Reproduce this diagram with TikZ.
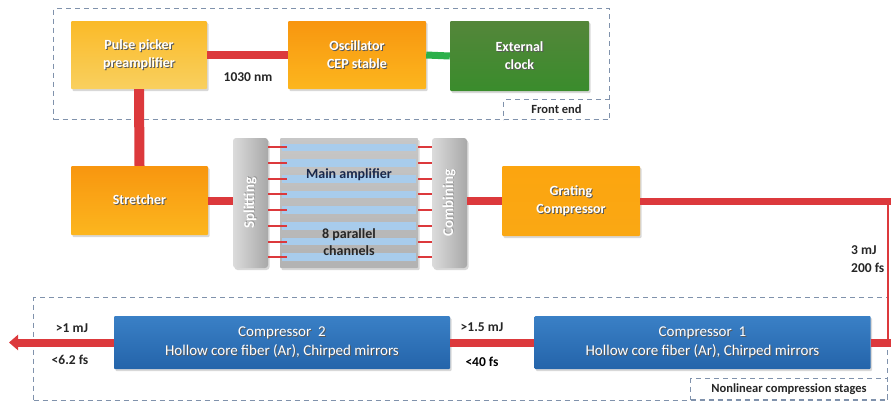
\documentclass[tikz,border=0pt]{standalone}
\usepackage{fontspec}
\setmainfont{Carlito}
\usetikzlibrary{arrows.meta,shadows}
\definecolor{lred}{RGB}{220,57,60}
\definecolor{lgreen}{RGB}{43,176,74}
\definecolor{dashc}{RGB}{128,146,172}
\definecolor{ppTop}{RGB}{250,186,40}
\definecolor{ppBot}{RGB}{249,208,95}
\definecolor{orTop}{RGB}{248,150,15}
\definecolor{orBot}{RGB}{252,182,30}
\definecolor{grTop}{RGB}{252,165,15}
\definecolor{grBot}{RGB}{250,168,20}
\definecolor{ckTop}{RGB}{84,134,58}
\definecolor{ckBot}{RGB}{58,140,44}
\definecolor{cpTop}{RGB}{58,128,198}
\definecolor{cpBot}{RGB}{36,100,170}
\definecolor{stripe}{RGB}{168,204,236}
\definecolor{navy}{RGB}{25,40,75}
\newcommand\sht[1]{{\rlap{\kern1pt\raisebox{-1pt}{\color{black!65}#1}}#1}}
\newcommand\shtl[1]{{\rlap{\kern0.6pt\raisebox{-0.6pt}{\color{black!40}#1}}#1}}
\begin{document}
\begin{tikzpicture}[x=1pt,y=-1pt,
  box/.style={inner sep=0pt, align=center, rounded corners=1pt, text=white,
    font=\fontsize{14}{18}\selectfont\bfseries,
    drop shadow={opacity=0.3,shadow xshift=1.5pt,shadow yshift=-2pt}},
  ppfill/.style={top color=ppTop, bottom color=ppBot},
  orfill/.style={top color=orTop, bottom color=orBot},
  grfill/.style={top color=grTop, bottom color=grBot},
  ckfill/.style={top color=ckTop, bottom color=ckBot},
  cpbox/.style={box, top color=cpTop, bottom color=cpBot,
    font=\fontsize{15}{19}\selectfont, minimum width=336pt, minimum height=53pt},
  bar/.style={inner sep=0pt, rounded corners=3pt, left color=black!14, right color=black!34,
    minimum width=35pt, minimum height=130pt,
    drop shadow={opacity=0.3,shadow xshift=1.5pt,shadow yshift=-2pt}},
  bartext/.style={rotate=90, text=white, inner sep=0pt, font=\fontsize{15}{17}\selectfont\bfseries},
  redline/.style={draw=lred, line width=8pt},
  tickline/.style={draw=lred, line width=2pt},
  dbox/.style={draw=dashc, dash pattern=on 5pt off 4pt, line width=1pt, inner sep=0pt},
  lbl/.style={font=\fontsize{13.5}{16}\selectfont\bfseries, text=black!85, inner sep=0pt}
]
\fill[white] (0,0) rectangle (891,405);
\useasboundingbox (0,0) rectangle (891,405);

% dashed group boxes
\node[dbox, anchor=north west, minimum width=556pt, minimum height=111pt] (fe) at (53,8) {};
\node[dbox, anchor=north west, minimum width=106pt, minimum height=20pt,
  font=\fontsize{12.5}{14}\selectfont\bfseries, text=black!85] (fel) at (503,99) {Front end};
\node[dbox, anchor=north west, minimum width=854pt, minimum height=103pt] (nl) at (33,297) {};
\node[dbox, anchor=north west, minimum width=197pt, minimum height=21pt,
  font=\fontsize{12.5}{14}\selectfont\bfseries, text=black!85] (nll) at (690,378) {Nonlinear compression stages};

% front end boxes
\node[box, ppfill, minimum width=136pt, minimum height=68pt] (pp) at (139,55) {\sht{Pulse picker}\\\sht{preamplifier}};
\node[box, orfill, minimum width=138pt, minimum height=68pt] (osc) at (357,55) {\sht{Oscillator}\\\sht{CEP stable}};
\node[box, ckfill, minimum width=139pt, minimum height=70pt] (clk) at (519.5,56) {\sht{External}\\\sht{clock}};

% amplifier chain
\node[box, orfill, minimum width=137pt, minimum height=69pt] (str) at (139.5,200.5) {\sht{Stretcher}};
\node[bar] (split) at (250.5,203) {};
\node[bar] (comb) at (449.5,203) {};
\node[inner sep=0pt, minimum width=138pt, minimum height=130pt, rounded corners=1pt,
  top color=black!22, bottom color=black!30,
  drop shadow={opacity=0.3,shadow xshift=1.5pt,shadow yshift=-2pt}] (amp) at (349,203) {};
\foreach \i in {0,...,7}{
  \fill[stripe] (282,{147.3+15.7*\i-3.8}) rectangle (416,{147.3+15.7*\i+3.8});
}
\node[bartext] (splt) at (split.center) {\shtl{Splitting}};
\node[bartext] (combt) at (comb.center) {\shtl{Combining}};
\node[text=navy, font=\fontsize{14}{17}\selectfont\bfseries] (ampt) at (349,175) {Main amplifier};
\node[text=black!85, align=center, font=\fontsize{14}{17}\selectfont\bfseries] (chant) at (349,242) {8 parallel\\channels};
\node[box, grfill, minimum width=138pt, minimum height=70pt] (grat) at (571,201) {\sht{Grating}\\\sht{Compressor}};

% compressors
\node[cpbox] (c1) at (702.5,342.5) {\sht{Compressor\ \ 1}\\\sht{Hollow core fiber (Ar), Chirped mirrors}};
\node[cpbox] (c2) at (282,342.5) {\sht{Compressor\ \ 2}\\\sht{Hollow core fiber (Ar), Chirped mirrors}};

% connectors
\coordinate (re) at (891,201);
\coordinate (rv) at (888,201);
\coordinate (rb) at (888,342.5);
\coordinate (rbe) at (891,342.5);
\coordinate (tip) at (9,342.5);
\draw[redline] (pp.east) -- (osc.west);
\draw[draw=lgreen, line width=7pt] (osc.east) -- (clk.west);
\draw[draw=lred, line width=10pt] (pp.south) -- (str.north);
\draw[redline] (str.east) -- (str.east -| split.west);
\foreach \i in {0,...,7}{
  \draw[tickline] (split.east |- 0,{147.3+15.7*\i}) -- ([xshift=7pt]amp.west |- 0,{147.3+15.7*\i});
  \draw[tickline] (amp.east |- 0,{147.3+15.7*\i}) -- (comb.west |- 0,{147.3+15.7*\i});
}
\draw[redline] (grat.west -| comb.east) -- (grat.west);
\draw[draw=lred, line width=7pt] (grat.east) -- (re);
\draw[draw=lred, line width=1.2pt] (rv) -- (rb);
\draw[redline] (c1.east) -- (rbe);
\draw[redline] (c1.west) -- (c2.east);
\draw[redline, -{Triangle[length=9pt,width=15pt]}] (c2.west) -- (tip);

% labels
\node[lbl] (l1030) at (248,77) {1030 nm};
\node[lbl, anchor=west] (l3mj) at (851,250) {3 mJ};
\node[lbl, anchor=west] (l200) at (851,268) {200 fs};
\node[lbl] (l1mj) at (72,328) {>1 mJ};
\node[lbl] (l62) at (70,360) {<6.2 fs};
\node[lbl] (l15) at (482,327) {>1.5 mJ};
\node[lbl, text=black] (l40) at (482,362) {<40 fs};
\end{tikzpicture}
\end{document}
